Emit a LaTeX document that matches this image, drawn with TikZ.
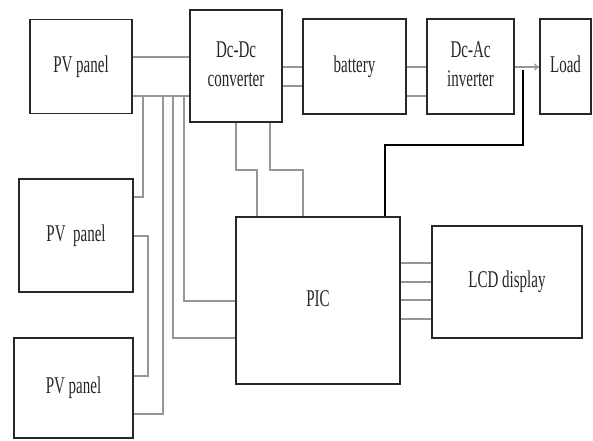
\documentclass[tikz,border=0pt]{standalone}
\usepackage{graphicx}
\usepackage{fontspec}
\setmainfont{Liberation Serif}
\usepackage{tikz}
\usetikzlibrary{arrows.meta,positioning,calc}
\definecolor{wirec}{RGB}{150,150,150}
\definecolor{boxc}{RGB}{40,40,40}
\newcommand{\lbl}[1]{\scalebox{1}[1.6]{\begin{tabular}{@{}c@{}}#1\end{tabular}}}

\begin{document}
\begin{tikzpicture}[x=1pt,y=-1pt,
  font=\fontsize{15}{18}\selectfont,
  blk/.style={draw=boxc,line width=1.6pt,inner sep=0pt,text=black!85},
  wire/.style={draw=wirec,line width=1.3pt},
  sig/.style={draw=black,line width=1.2pt}]
  \useasboundingbox (0,0) rectangle (593,440);
  % blocks
  \node[blk,minimum width=102pt,minimum height=94pt] (pv1) at (81,66.5) {\lbl{PV panel}};
  \node[blk,minimum width=92pt,minimum height=112pt] (dcdc) at (236,66) {\lbl{Dc-Dc\\converter}};
  \node[blk,minimum width=103pt,minimum height=95pt] (bat) at (354.5,66.5) {\lbl{battery}};
  \node[blk,minimum width=87pt,minimum height=95pt] (dcac) at (470.5,66.5) {\lbl{Dc-Ac\\inverter}};
  \node[blk,minimum width=51pt,minimum height=95pt] (load) at (565.5,66.5) {\lbl{Load}};
  \node[blk,minimum width=114pt,minimum height=113pt] (pv2) at (76,235.5) {\lbl{PV~ panel}};
  \node[blk,minimum width=119pt,minimum height=100pt] (pv3) at (73.5,388) {\lbl{PV panel}};
  \node[blk,minimum width=164pt,minimum height=167pt] (pic) at (318,300.5) {\lbl{PIC}};
  \node[blk,minimum width=150pt,minimum height=112pt] (lcd) at (507,282) {\lbl{LCD display}};
  % taps on the lower bus
  \coordinate (tap1) at (143,96);
  \coordinate (tap2) at (163,96);
  \coordinate (tap3) at (173,96);
  \coordinate (tap4) at (184,96);
  % panel bus
  \draw[wire] (pv1.east |- 0,57) -- (dcdc.west |- 0,57);
  \draw[wire] (pv1.east |- 0,96) -- (dcdc.west |- 0,96);
  \draw[wire] (pv2.east |- 0,197) -| (tap1);
  \draw[wire] (pv3.east |- 0,414) -| (tap2);
  \draw[wire] (pic.west |- 0,338) -| (tap3);
  \draw[wire] (pic.west |- 0,301) -| (tap4);
  \draw[wire] (pv2.east |- 0,236) -- (148,236) -- (148,376) -- (pv3.east |- 0,376);
  % converter to PIC
  \draw[wire] (dcdc.south -| 236,0) |- (257,170) -- (pic.north -| 257,0);
  \draw[wire] (dcdc.south -| 270,0) |- (303,170) -- (pic.north -| 303,0);
  % power path
  \draw[wire] (dcdc.east |- 0,67) -- (bat.west |- 0,67);
  \draw[wire] (dcdc.east |- 0,86) -- (bat.west |- 0,86);
  \draw[wire] (bat.east |- 0,67) -- (dcac.west |- 0,67);
  \draw[wire] (bat.east |- 0,96) -- (dcac.west |- 0,96);
  \draw[wire,-{To[length=5pt,width=7pt]}] (dcac.east |- 0,67) -- (load.west |- 0,67);
  \coordinate (sense) at (523,70);
  \draw[sig] (pic.north -| 385,0) |- (523,145) -- (sense);
  % PIC to display
  \foreach \yy in {263,282,300,319}
    \draw[wire] (pic.east |- 0,\yy) -- (lcd.west |- 0,\yy);
\end{tikzpicture}
\end{document}
